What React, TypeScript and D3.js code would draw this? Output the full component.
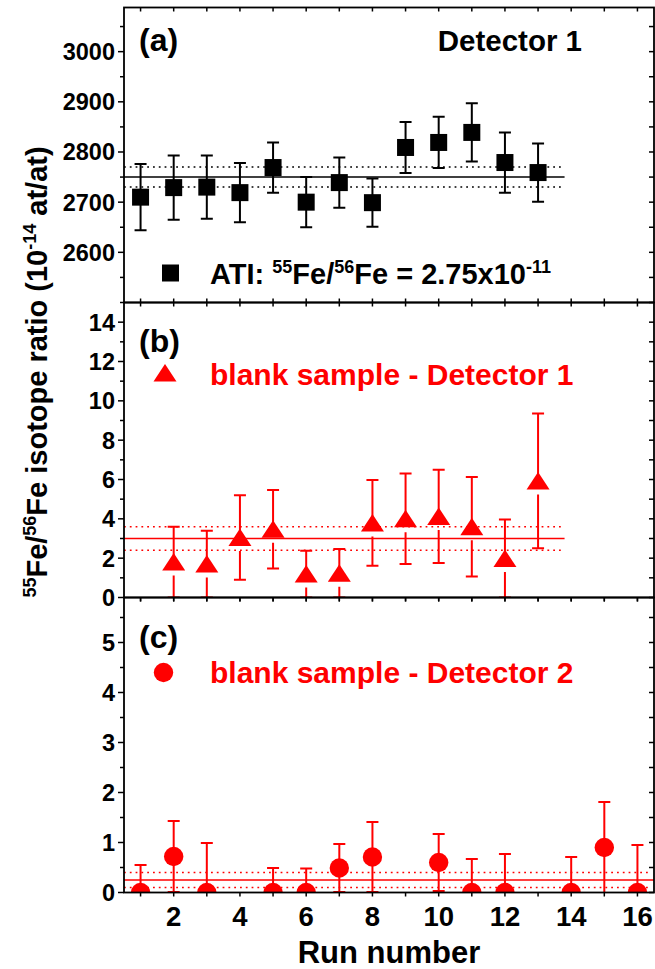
import React from "react";
import * as d3 from "d3";

// panel (a): ATI reference material, detector 1
const runsA = [1, 2, 3, 4, 5, 6, 7, 8, 9, 10, 11, 12, 13];
const ratioA = [2710, 2729, 2730, 2719, 2769, 2700, 2739, 2699, 2809, 2819, 2839, 2779, 2759];
const errA = [66, 64, 63, 59, 50, 50, 50, 48, 51, 51, 58, 60, 58];
const meanA = [2750, 2730, 2770];

// panel (b): blank sample, detector 1
const runsB = [2, 3, 4, 5, 6, 7, 8, 9, 10, 11, 12, 13];
const ratioB = [1.8, 1.7, 3.05, 3.47, 1.19, 1.23, 3.79, 4.0, 4.12, 3.6, 1.98, 5.93];
const errB = [1.8, 1.7, 2.15, 1.99, 1.19, 1.23, 2.18, 2.3, 2.37, 2.53, 1.98, 3.42];
const meanB = [3.0, 2.4, 3.6];

// panel (c): blank sample, detector 2
const runsC = [1, 2, 3, 5, 6, 7, 8, 10, 11, 12, 14, 15, 16];
const ratioC = [0, 0.72, 0, 0, 0, 0.49, 0.71, 0.6, 0, 0, 0, 0.9, 0];
const errC = [0.55, 0.71, 0.99, 0.49, 0.48, 0.48, 0.7, 0.57, 0.67, 0.77, 0.71, 0.91, 0.95];
const meanC = [0.25, 0.1, 0.4];

const xLabels = [2, 4, 6, 8, 10, 12, 14, 16];
const yLabelsA = [2600, 2700, 2800, 2900, 3000];
const yLabelsB = [0, 2, 4, 6, 8, 10, 12, 14];
const yLabelsC = [0, 1, 2, 3, 4, 5];

const FONT = "'Liberation Sans', Arial, sans-serif";
const RED = "#ff0000";

const left = 124;
const right = 654;
const top0 = 7.5;
const ph = 295;

const x = d3.scaleLinear().domain([0.5, 16.5]).range([left, right]);

function Marker({ type, cx, cy, color }) {
  if (type === "square") return <rect x={cx - 8.5} y={cy - 8.5} width={17} height={17} fill={color} />;
  if (type === "triangle")
    return <path d={`M${cx},${cy - 9}L${cx + 11.5},${cy + 8.5}L${cx - 11.5},${cy + 8.5}Z`} fill={color} />;
  return <circle cx={cx} cy={cy} r={9.7} fill={color} />;
}

function Panel({ id, y0, domain, runs, vals, errs, mean, lineEnd, color, marker, labels, minorStep, label, labelBase, legend, xTickPos }) {
  const y = d3.scaleLinear().domain(domain).range([y0 + ph, y0]);
  const minor = d3.range(domain[0], domain[1], minorStep).filter((v) => !labels.includes(v));
  const runTicks = d3.range(1, 17);
  return (
    <g>
      <defs>
        <clipPath id={`clip-${id}`}>
          <rect x={left} y={y0} width={right - left} height={ph} />
        </clipPath>
      </defs>
      <g clipPath={`url(#clip-${id})`}>
        {/* mean and +/- band */}
        <line x1={x(0.5)} x2={x(lineEnd)} y1={y(mean[0])} y2={y(mean[0])} stroke={color} strokeWidth={1.5} />
        {mean.slice(1).map((m, i) => (
          <line key={i} x1={x(0.5)} x2={x(lineEnd) - 3} y1={y(m)} y2={y(m)} stroke={color} strokeWidth={1.5} strokeDasharray="1.8 4" />
        ))}
        {runs.map((r, i) => {
          const cx = x(r);
          const cy = y(vals[i]);
          const yt = y(vals[i] + errs[i]);
          const yb = y(vals[i] - errs[i]);
          const lowStart = marker === "triangle" ? cy + 13.5 : cy;
          return (
            <g key={r} stroke={color} strokeWidth={2}>
              <line x1={cx} x2={cx} y1={yt} y2={cy} />
              {lowStart < yb && <line x1={cx} x2={cx} y1={lowStart} y2={yb} />}
              <line x1={cx - 6} x2={cx + 6} y1={yt} y2={yt} />
              <line x1={cx - 6} x2={cx + 6} y1={yb} y2={yb} />
            </g>
          );
        })}
        {runs.map((r, i) => (
          <Marker key={r} type={marker} cx={x(r)} cy={y(vals[i])} color={color} />
        ))}
      </g>
      {/* frame */}
      <rect x={left} y={y0} width={right - left} height={ph} fill="none" stroke="#000" strokeWidth={1.8} />
      {/* left ticks outward, right ticks inward */}
      {labels.map((v) => (
        <g key={`M${v}`} stroke="#000" strokeWidth={1.5}>
          <line x1={left - 6} x2={left} y1={y(v)} y2={y(v)} />
          <line x1={right - 5} x2={right} y1={y(v)} y2={y(v)} />
        </g>
      ))}
      {minor.map((v) => (
        <g key={`m${v}`} stroke="#000" strokeWidth={1.5}>
          <line x1={left - 4} x2={left} y1={y(v)} y2={y(v)} />
          <line x1={right - 5} x2={right} y1={y(v)} y2={y(v)} />
        </g>
      ))}
      {labels.map((v) => (
        <text key={`t${v}`} x={left - 9} y={y(v)} dy="0.36em" textAnchor="end" fontSize={23.5} fontWeight="bold" fontFamily={FONT}>
          {v}
        </text>
      ))}
      {/* x ticks on top and bottom edges */}
      {runTicks.map((r) => (
        <g key={`x${r}`} stroke="#000" strokeWidth={1.5}>
          {xTickPos.topIn && <line x1={x(r)} x2={x(r)} y1={y0} y2={y0 + 4} />}
          {xTickPos.bottomIn && <line x1={x(r)} x2={x(r)} y1={y0 + ph - 4} y2={y0 + ph} />}
          {xTickPos.bottomOut && <line x1={x(r)} x2={x(r)} y1={y0 + ph} y2={y0 + ph + 4} />}
        </g>
      ))}
      <text x={139} y={y0 + labelBase} fontSize={32} fontWeight="bold" fontFamily={FONT}>{label}</text>
      {legend}
    </g>
  );
}

export default function App() {
  const y0a = top0;
  const y0b = top0 + ph;
  const y0c = top0 + 2 * ph;
  return (
    <svg width={655} height={969} style={{ position: "absolute", left: 0, top: 0, background: "#fff" }}>
      <Panel
        id="a" y0={y0a} domain={[2500, 3088]} runs={runsA} vals={ratioA} errs={errA} mean={meanA}
        lineEnd={13.8} color="#000" marker="square" labels={yLabelsA} minorStep={50}
        label="(a)" labelBase={43} xTickPos={{ topIn: true, bottomIn: true, bottomOut: false }}
        legend={
          <g>
            <text x={582} y={y0a + 43.5} textAnchor="end" fontSize={29.5} fontWeight="bold" fontFamily={FONT}>Detector 1</text>
            <Marker type="square" cx={170.5} cy={y0a + 265.5} color="#000" />
            <text x={210} y={y0a + 276} fontSize={29} fontWeight="bold" fontFamily={FONT}>
              ATI: <tspan fontSize={18} dy={-11}>55</tspan><tspan dy={11}>Fe/</tspan><tspan fontSize={18} dy={-11}>56</tspan>
              <tspan dy={11}>Fe = 2.75x10</tspan><tspan fontSize={18} dy={-11}>-11</tspan>
            </text>
          </g>
        }
      />
      <Panel
        id="b" y0={y0b} domain={[0, 15]} runs={runsB} vals={ratioB} errs={errB} mean={meanB}
        lineEnd={13.8} color={RED} marker="triangle" labels={yLabelsB} minorStep={1}
        label="(b)" labelBase={49} xTickPos={{ topIn: true, bottomIn: false, bottomOut: true }}
        legend={
          <g>
            <Marker type="triangle" cx={165} cy={y0b + 70.5} color={RED} />
            <text x={210} y={y0b + 82.5} fontSize={30} fontWeight="bold" fontFamily={FONT} fill={RED}>blank sample - Detector 1</text>
          </g>
        }
      />
      <Panel
        id="c" y0={y0c} domain={[0, 5.9]} runs={runsC} vals={ratioC} errs={errC} mean={meanC}
        lineEnd={16.5} color={RED} marker="circle" labels={yLabelsC} minorStep={0.5}
        label="(c)" labelBase={50.5} xTickPos={{ topIn: true, bottomIn: false, bottomOut: true }}
        legend={
          <g>
            <Marker type="circle" cx={163.5} cy={y0c + 75} color={RED} />
            <text x={210} y={y0c + 85} fontSize={30} fontWeight="bold" fontFamily={FONT} fill={RED}>blank sample - Detector 2</text>
          </g>
        }
      />
      {xLabels.map((v) => (
        <text key={v} x={x(v)} y={926} textAnchor="middle" fontSize={27.5} fontWeight="bold" fontFamily={FONT}>{v}</text>
      ))}
      <text x={(left + right) / 2} y={963} textAnchor="middle" fontSize={31} fontWeight="bold" fontFamily={FONT}>Run number</text>
      <text transform="translate(47,372) rotate(-90)" textAnchor="middle" fontSize={29} fontWeight="bold" fontFamily={FONT}>
        <tspan fontSize={18} dy={-11}>55</tspan><tspan dy={11}>Fe/</tspan><tspan fontSize={18} dy={-11}>56</tspan>
        <tspan dy={11}>Fe isotope ratio (10</tspan><tspan fontSize={18} dy={-11}>-14</tspan><tspan dy={11}> at/at)</tspan>
      </text>
    </svg>
  );
}
